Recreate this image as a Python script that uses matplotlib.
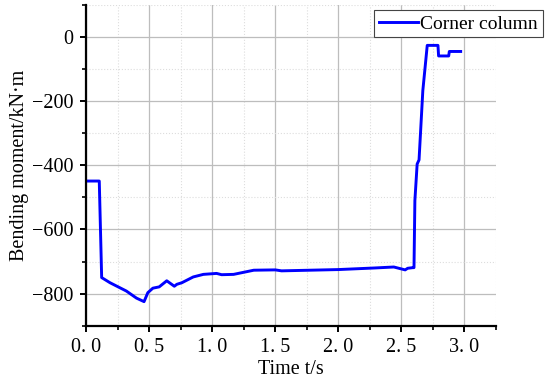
import matplotlib
matplotlib.use("Agg")
import matplotlib.pyplot as plt
from matplotlib.ticker import MultipleLocator, FuncFormatter

# data
time_s = [0.0, 0.105, 0.124, 0.19, 0.32, 0.40, 0.46, 0.49, 0.53, 0.58, 0.64,
          0.70, 0.72, 0.76, 0.85, 0.93, 1.035, 1.075, 1.17, 1.33, 1.50, 1.55,
          2.00, 2.29, 2.44, 2.53, 2.55, 2.59, 2.60, 2.607, 2.625, 2.64, 2.67,
          2.705, 2.79, 2.795, 2.875, 2.88, 2.97]
moment = [-449, -449, -750, -766, -792, -814, -825, -797, -783, -779, -760,
          -777, -771, -766, -748, -740, -737, -741, -740, -727, -726, -729,
          -725, -720, -717, -726, -721, -719, -719, -510, -396, -383, -167,
          -26, -26, -59, -59, -45, -45]

plt.rcParams['font.family'] = ['Liberation Serif', 'DejaVu Serif']

fig = plt.figure(figsize=(5.5, 3.82), dpi=100)
ax = fig.add_axes([0.1564, 0.1474, 0.7454, 0.8396])

ax.plot(time_s, moment, color='#0000ff', lw=2.1, label='Corner column')

ax.set_xlim(0, 3.25)
ax.set_ylim(-900, 100)
ax.xaxis.set_major_locator(MultipleLocator(0.5))
ax.xaxis.set_minor_locator(MultipleLocator(0.25))
ax.yaxis.set_major_locator(MultipleLocator(200))
ax.yaxis.set_minor_locator(MultipleLocator(100))
# the source font draws a wide gap after the point
ax.xaxis.set_major_formatter(FuncFormatter(lambda v, p: ('%.1f' % v).replace('.', '. ')))
ax.yaxis.set_major_formatter(FuncFormatter(lambda v, p: '%d' % v if v >= 0 else '\u2212%d' % -v))

ax.grid(which='major', color='#bdbdbd', lw=0.9)
ax.grid(which='minor', color='#dddddd', lw=0.8, ls=':')
ax.set_axisbelow(True)

for s in ['top', 'right']:
    ax.spines[s].set_visible(False)
for s in ['left', 'bottom']:
    ax.spines[s].set_linewidth(1.6)

ax.tick_params(which='major', direction='out', length=4, width=1.4, labelsize=14.5, pad=5)
ax.tick_params(which='minor', direction='out', length=3, width=1.2)

ax.set_xlabel('Time t/s', fontsize=14.5, labelpad=2)
ax.set_ylabel('Bending moment/kN\u00b7m', fontsize=14.5, labelpad=2)

leg = ax.legend(loc='upper right', bbox_to_anchor=(1.1146, 0.984), fontsize=14,
                frameon=True, fancybox=False, edgecolor='#444444', framealpha=1,
                handlelength=2.0, borderpad=0.25, handletextpad=0.15, borderaxespad=0.0)
leg.get_frame().set_linewidth(0.8)

fig.savefig('out.png', dpi=100)
